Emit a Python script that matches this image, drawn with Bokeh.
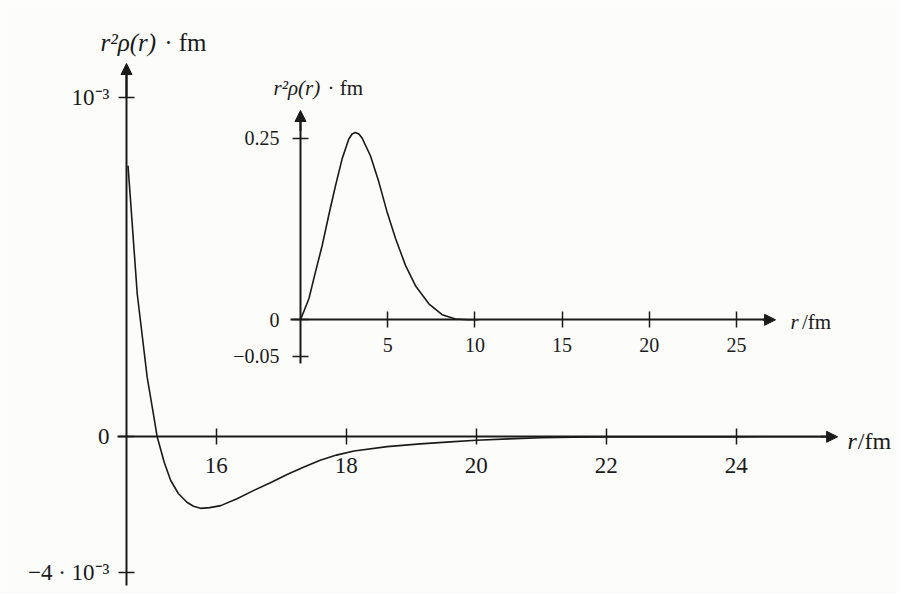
from bokeh.plotting import figure
from bokeh.models import LinearAxis, Range1d, FixedTicker, Arrow, NormalHead, Label
from bokeh.embed import file_html
from bokeh.resources import INLINE

# ---- data ----
# main plot: r in fm, r^2 rho(r) fm in units of 10^-3
main_r = [14.643, 14.671, 14.785, 14.938, 15.04, 15.092, 15.20, 15.30, 15.42, 15.55,
          15.65, 15.76, 15.90, 16.07, 16.32, 16.58, 16.85, 17.09, 17.35, 17.60,
          17.85, 18.12, 18.63, 19.14, 19.60, 20.0, 20.5, 21.0, 21.5, 22.0, 23.0, 24.0, 25.3]
main_r2rho_e3 = [0.80, 0.727, 0.422, 0.176, 0.06, 0.0, -0.075, -0.129, -0.168, -0.193,
                 -0.205, -0.211, -0.209, -0.203, -0.183, -0.158, -0.134, -0.111, -0.089, -0.069,
                 -0.054, -0.042, -0.029, -0.021, -0.015, -0.010, -0.006, -0.003, -0.0015, -0.0007,
                 -0.0002, -0.0001, 0.0]

# inset: r in fm, r^2 rho(r) fm
inset_r = [0.0, 0.48, 0.86, 1.24, 1.62, 2.01, 2.39, 2.77, 2.96, 3.15, 3.35, 3.54, 4.01, 4.49,
           4.97, 5.45, 6.02, 6.59, 7.36, 8.12, 8.89, 9.6, 10.2]
inset_r2rho = [0.0, 0.029, 0.066, 0.102, 0.144, 0.185, 0.222, 0.249, 0.256, 0.258, 0.256, 0.250,
               0.226, 0.190, 0.148, 0.112, 0.075, 0.047, 0.022, 0.007, 0.001, 0.0, 0.0]

main_xticks = [16, 18, 20, 22, 24]
main_yticks = [1.0, 0.0, -0.4]
main_ytick_labels = ["10⁻³", "0", "−4 · 10⁻³"]
inset_xticks = [5, 10, 15, 20, 25]
inset_yticks = [0.25, 0.0, -0.05]
inset_ytick_labels = ["0.25", "0", "−0.05"]

FONT = "Liberation Serif"
INK = "#1a1a1a"

W, H = 898, 594
# scales: pixels per data unit and pixel position of a reference value
MAIN_X0, MAIN_XPX, MAIN_XS = 16.0, 215.7, 65.0
MAIN_YPX0, MAIN_YS = 436.3, 339.0
INS_XPX0, INS_XS = 300.0, 17.44
INS_YPX0, INS_YS = 319.3, 726.0

p = figure(width=W, height=H, output_backend="svg", toolbar_location=None,
           x_range=Range1d(MAIN_X0 - MAIN_XPX / MAIN_XS, MAIN_X0 + (W - MAIN_XPX) / MAIN_XS),
           y_range=Range1d((MAIN_YPX0 - H) / MAIN_YS, MAIN_YPX0 / MAIN_YS),
           x_axis_type=None, y_axis_type=None, min_border=0)
p.outline_line_color = None
p.background_fill_color = "#fcfcfb"
p.border_fill_color = "#fcfcfb"
p.extra_x_ranges = {"inset": Range1d(-INS_XPX0 / INS_XS, (W - INS_XPX0) / INS_XS)}
p.extra_y_ranges = {"inset": Range1d((INS_YPX0 - H) / INS_YS, INS_YPX0 / INS_YS)}


def style_axis(ax, size):
    ax.axis_line_width = 2
    ax.axis_line_color = INK
    ax.major_tick_in = 8
    ax.major_tick_out = 8
    ax.major_tick_line_width = 1.5
    ax.major_tick_line_color = INK
    ax.minor_tick_line_color = None
    ax.major_label_text_font = FONT
    ax.major_label_text_font_size = size
    ax.major_label_text_color = INK


# main axes
mx = LinearAxis(ticker=FixedTicker(ticks=main_xticks), fixed_location=0, bounds=(14.48, 25.5))
style_axis(mx, "23px")
mx.major_label_standoff = 13
p.add_layout(mx, "below")

my = LinearAxis(ticker=FixedTicker(ticks=main_yticks), fixed_location=14.62, bounds=(-0.4386, 1.08))
style_axis(my, "23px")
my.major_label_standoff = 9
my.major_label_overrides = {t: s for t, s in zip(main_yticks, main_ytick_labels)}
p.add_layout(my, "left")

# inset axes
ix = LinearAxis(ticker=FixedTicker(ticks=inset_xticks), fixed_location=0, bounds=(-0.57, 27.0),
                x_range_name="inset", y_range_name="inset")
style_axis(ix, "20px")
ix.major_label_standoff = 10
p.add_layout(ix, "below")

iy = LinearAxis(ticker=FixedTicker(ticks=inset_yticks), fixed_location=0, bounds=(-0.060, 0.280),
                x_range_name="inset", y_range_name="inset")
style_axis(iy, "20px")
iy.major_label_standoff = 13
iy.major_label_overrides = {t: s for t, s in zip(inset_yticks, inset_ytick_labels)}
p.add_layout(iy, "left")

# arrow heads
def head():
    return NormalHead(size=11, fill_color=INK, line_color=INK, line_width=1)

p.add_layout(Arrow(end=head(), x_start=25.3, y_start=0, x_end=25.56, y_end=0,
                   line_width=2, line_color=INK))
p.add_layout(Arrow(end=head(), x_start=14.62, y_start=1.0, x_end=14.62, y_end=1.101,
                   line_width=2, line_color=INK))
p.add_layout(Arrow(end=head(), x_start=26.5, y_start=0, x_end=27.24, y_end=0,
                   line_width=2, line_color=INK, x_range_name="inset", y_range_name="inset"))
p.add_layout(Arrow(end=head(), x_start=0, y_start=0.26, x_end=0, y_end=0.2883,
                   line_width=2, line_color=INK, x_range_name="inset", y_range_name="inset"))

# curves
p.line(main_r, main_r2rho_e3, line_width=1.6, line_color=INK)
p.line(inset_r, inset_r2rho, line_width=1.6, line_color=INK,
       x_range_name="inset", y_range_name="inset")

# axis titles
def lab(x, y, text, size, italic=False, align="left", rng=None):
    kw = dict(x=x, y=y, text=text, text_font=FONT, text_font_size=size,
              text_color=INK, text_align=align, text_baseline="middle",
              text_font_style="italic" if italic else "normal")
    if rng:
        kw.update(x_range_name=rng, y_range_name=rng)
    p.add_layout(Label(**kw))

# main y title  (r^2 rho(r) . fm) above the main y axis
lab(14.22, 1.163, "r²ρ(r)", "25px", italic=True)
lab(15.20, 1.163, "· fm", "25px")
# main x title
lab(25.712, -0.011, "r", "24px", italic=True)
lab(25.87, -0.011, "/fm", "24px")

# inset titles
lab(-1.548, 0.3186, "r²ρ(r)", "21px", italic=True, rng="inset")
lab(1.55, 0.3186, "· fm", "21px", rng="inset")
lab(28.1, -0.0037, "r", "21px", italic=True, rng="inset")
lab(28.75, -0.0037, "/fm", "21px", rng="inset")

open("out.html", "w").write(file_html(p, INLINE))
